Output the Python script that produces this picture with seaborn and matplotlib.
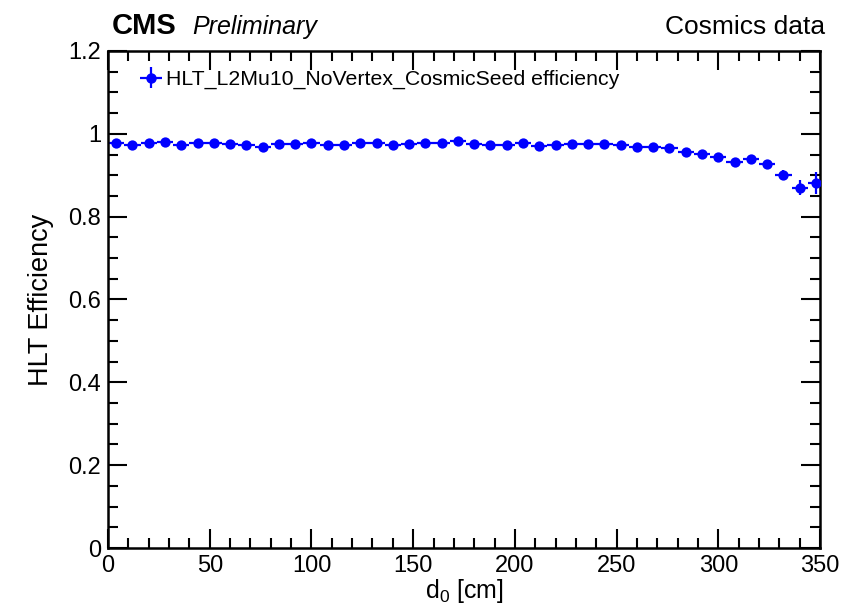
import numpy as np
import pandas as pd
import seaborn as sns
import matplotlib.pyplot as plt
from matplotlib.ticker import MultipleLocator
from matplotlib.lines import Line2D

# bin centres (8 cm bins) and measured efficiency
d0 = [4, 12, 20, 28, 36, 44, 52, 60, 68, 76, 84, 92, 100, 108, 116, 124,
      132, 140, 148, 156, 164, 172, 180, 188, 196, 204, 212, 220, 228, 236,
      244, 252, 260, 268, 276, 284, 292, 300, 308, 316, 324, 332, 340, 348]
eff = [0.977, 0.974, 0.978, 0.980, 0.972, 0.977, 0.978, 0.976, 0.973, 0.969,
       0.976, 0.975, 0.978, 0.974, 0.974, 0.977, 0.979, 0.973, 0.976, 0.977,
       0.977, 0.982, 0.975, 0.974, 0.974, 0.979, 0.970, 0.974, 0.976, 0.975,
       0.976, 0.972, 0.968, 0.969, 0.965, 0.957, 0.952, 0.944, 0.932, 0.938,
       0.928, 0.900, 0.870, 0.881]
eff_err = [0.003] * 37 + [0.005, 0.006, 0.006, 0.007, 0.012, 0.018, 0.026]
bin_half = [4] * 44

df = pd.DataFrame({'d0': d0, 'eff': eff, 'err': eff_err, 'xerr': bin_half})

sns.set_theme(style="ticks")
plt.rcParams['font.family'] = ['Liberation Sans', 'DejaVu Sans']
plt.rcParams['mathtext.fontset'] = 'custom'
plt.rcParams['mathtext.rm'] = 'Liberation Sans'
plt.rcParams['text.color'] = 'black'
plt.rcParams['axes.labelcolor'] = 'black'

fig = plt.figure(figsize=(8.44, 6.04), dpi=100)
ax = fig.add_axes([0.128, 0.0927, 0.8436, 0.8229])

blue = '#0000ff'
h = ax.errorbar(df['d0'], df['eff'], yerr=df['err'], xerr=df['xerr'],
                fmt='none', ecolor=blue, elinewidth=1.6, capsize=0)
sns.scatterplot(data=df, x='d0', y='eff', ax=ax, color=blue, s=55,
                edgecolor=blue, linewidth=0, zorder=3, legend=False)

handle = (h, Line2D([], [], marker='o', color=blue, linestyle='none', markersize=6.5))
ax.legend([handle], ['HLT_L2Mu10_NoVertex_CosmicSeed efficiency'],
          loc='upper left', bbox_to_anchor=(0.02, 1.0), frameon=False,
          fontsize=15.3, handlelength=0.9, handletextpad=0.25)

ax.set_xlim(0, 350)
ax.set_ylim(0, 1.2)
ax.xaxis.set_major_locator(MultipleLocator(50))
ax.xaxis.set_minor_locator(MultipleLocator(10))
ax.yaxis.set_minor_locator(MultipleLocator(0.05))
ax.set_yticks([0, 0.2, 0.4, 0.6, 0.8, 1.0, 1.2])
ax.set_yticklabels(['0', '0.2', '0.4', '0.6', '0.8', '1', '1.2'])

ax.tick_params(which='both', direction='in', top=True, right=True,
               labelsize=17, width=1.5, colors='black')
ax.tick_params(which='major', length=14, pad=5)
ax.tick_params(which='minor', length=7)
for s in ax.spines.values():
    s.set_linewidth(1.8)
    s.set_color('black')

ax.set_xlabel('d$_0$ [cm]', fontsize=18, labelpad=0)
ax.set_ylabel('HLT Efficiency', fontsize=19.5, labelpad=10)

fig.text(0.132, 0.943, 'CMS', fontsize=21, fontweight='bold', ha='left', va='baseline')
fig.text(0.228, 0.943, 'Preliminary', fontsize=18, style='italic', ha='left', va='baseline')
fig.text(0.978, 0.943, 'Cosmics data', fontsize=19, ha='right', va='baseline')

fig.savefig('out.png', dpi=100)
